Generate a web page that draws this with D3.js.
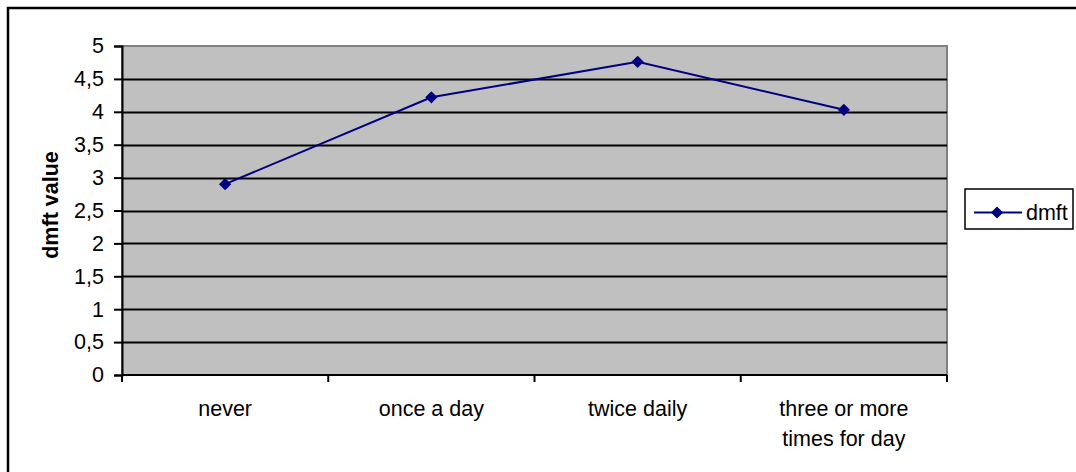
<!DOCTYPE html>
<html>
<head>
<meta charset="utf-8">
<script src="https://cdn.jsdelivr.net/npm/d3@7"></script>
<style>
  html, body { margin: 0; padding: 0; background: #fff; }
  svg { display: block; font-family: "Liberation Sans", Arial, sans-serif; }
</style>
</head>
<body>
<svg id="chart" width="1076" height="472"></svg>
<script>
// Brushing frequency categories and mean dmft per group
const categories = [["never"], ["once a day"], ["twice daily"], ["three or more", "times for day"]];
const dmftValues = [2.90, 4.22, 4.76, 4.03];
const yTicks = [0, 0.5, 1, 1.5, 2, 2.5, 3, 3.5, 4, 4.5, 5];
const seriesName = "dmft";
const yTitle = "dmft value";

const svg = d3.select("#chart");
const plot = { left: 122, top: 46, right: 947, bottom: 375 };
const navy = "#000080";
const fontSize = 21.5;

// Outer frame of the chart object
svg.append("rect")
  .attr("x", 8).attr("y", 8).attr("width", 1080).attr("height", 480)
  .attr("fill", "#fff").attr("stroke", "#000").attr("stroke-width", 2.5);

const x = d3.scaleBand()
  .domain(categories.map(c => c.join(" ")))
  .range([plot.left, plot.right])
  .padding(0);
const y = d3.scaleLinear().domain([0, 5]).range([plot.bottom, plot.top]);

// Plot background
svg.append("rect")
  .attr("x", plot.left).attr("y", plot.top)
  .attr("width", plot.right - plot.left).attr("height", plot.bottom - plot.top)
  .attr("fill", "#c0c0c0").attr("stroke", "#808080").attr("stroke-width", 2);

// Horizontal gridlines
svg.append("g").selectAll("line")
  .data(yTicks.filter(t => t > 0 && t < 5))
  .join("line")
  .attr("x1", plot.left).attr("x2", plot.right)
  .attr("y1", d => Math.round(y(d)) + 0.5).attr("y2", d => Math.round(y(d)) + 0.5)
  .attr("stroke", "#000").attr("stroke-width", 2);

// Y axis
const yAxis = svg.append("g")
  .attr("transform", `translate(${plot.left},0)`)
  .call(d3.axisLeft(y).tickValues(yTicks).tickSize(8).tickPadding(10)
    .tickFormat(d => String(d).replace(".", ",")));
yAxis.attr("font-size", null).attr("font-family", null);
yAxis.select(".domain").attr("stroke", "#000").attr("stroke-width", 2);
yAxis.selectAll(".tick line").attr("stroke", "#000").attr("stroke-width", 2);
yAxis.selectAll(".tick text").attr("font-size", fontSize).attr("fill", "#000");

// X axis: ticks at category boundaries
const xAxis = svg.append("g").attr("transform", `translate(0,${plot.bottom})`);
xAxis.append("line")
  .attr("x1", plot.left).attr("x2", plot.right)
  .attr("stroke", "#000").attr("stroke-width", 2);
const boundaries = x.domain().map(d => x(d)).concat([plot.right]);
xAxis.selectAll("line.tk")
  .data(boundaries)
  .join("line").attr("class", "tk")
  .attr("x1", d => d).attr("x2", d => d)
  .attr("y1", 0).attr("y2", 7)
  .attr("stroke", "#000").attr("stroke-width", 2);

xAxis.selectAll("text.cat")
  .data(categories)
  .join("text").attr("class", "cat")
  .attr("text-anchor", "middle")
  .attr("font-size", fontSize)
  .attr("fill", "#000")
  .each(function (lines) {
    const cx = x(lines.join(" ")) + x.bandwidth() / 2;
    d3.select(this).selectAll("tspan")
      .data(lines)
      .join("tspan")
      .attr("x", cx)
      .attr("y", (d, i) => 41 + i * 30)
      .text(d => d);
  });

// Y axis title
svg.append("text")
  .attr("transform", `translate(58,205) rotate(-90)`)
  .attr("text-anchor", "middle")
  .attr("font-size", fontSize).attr("font-weight", "bold")
  .text(yTitle);

// Series line and diamond markers
const pts = categories.map((c, i) => [x(c.join(" ")) + x.bandwidth() / 2, y(dmftValues[i])]);
svg.append("path")
  .attr("d", d3.line()(pts))
  .attr("fill", "none").attr("stroke", navy).attr("stroke-width", 2);

const diamond = d3.symbol().type(d3.symbolDiamond2).size(95);
svg.append("g").selectAll("path")
  .data(pts)
  .join("path")
  .attr("d", diamond)
  .attr("transform", d => `translate(${d[0]},${d[1]})`)
  .attr("fill", navy);

// Legend
const lg = svg.append("g").attr("transform", "translate(965,189)");
lg.append("rect")
  .attr("x", 0).attr("y", 0).attr("width", 108).attr("height", 40)
  .attr("fill", "#fff").attr("stroke", "#000").attr("stroke-width", 1.5);
lg.append("line")
  .attr("x1", 9).attr("x2", 57).attr("y1", 23.5).attr("y2", 23.5)
  .attr("stroke", navy).attr("stroke-width", 2);
lg.append("path")
  .attr("d", diamond)
  .attr("transform", "translate(32,23.5)")
  .attr("fill", navy);
lg.append("text")
  .attr("x", 61).attr("y", 31)
  .attr("font-size", fontSize).attr("fill", "#000")
  .text(seriesName);
</script>
</body>
</html>
